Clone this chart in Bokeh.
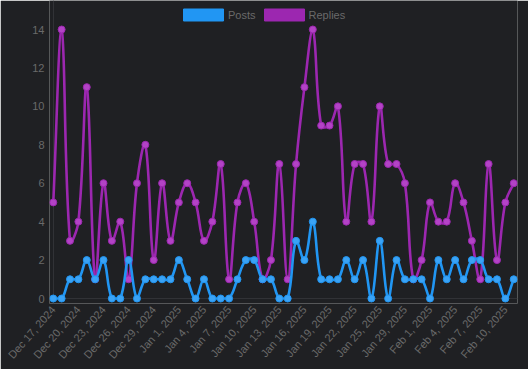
import numpy as np
from bokeh.plotting import figure
from bokeh.models import Range1d, FixedTicker, Legend, LegendItem, ColumnDataSource
from bokeh.embed import file_html
from bokeh.resources import INLINE

dates = [
    "Dec 17, 2024", "Dec 18, 2024", "Dec 19, 2024", "Dec 20, 2024", "Dec 21, 2024",
    "Dec 22, 2024", "Dec 23, 2024", "Dec 24, 2024", "Dec 25, 2024", "Dec 26, 2024",
    "Dec 27, 2024", "Dec 28, 2024", "Dec 29, 2024", "Dec 30, 2024", "Dec 31, 2024",
    "Jan 1, 2025", "Jan 2, 2025", "Jan 3, 2025", "Jan 4, 2025", "Jan 5, 2025",
    "Jan 6, 2025", "Jan 7, 2025", "Jan 8, 2025", "Jan 9, 2025", "Jan 10, 2025",
    "Jan 11, 2025", "Jan 12, 2025", "Jan 13, 2025", "Jan 14, 2025", "Jan 15, 2025",
    "Jan 16, 2025", "Jan 17, 2025", "Jan 18, 2025", "Jan 19, 2025", "Jan 20, 2025",
    "Jan 21, 2025", "Jan 22, 2025", "Jan 23, 2025", "Jan 24, 2025", "Jan 25, 2025",
    "Jan 26, 2025", "Jan 27, 2025", "Jan 29, 2025", "Jan 30, 2025", "Jan 31, 2025",
    "Feb 1, 2025", "Feb 2, 2025", "Feb 3, 2025", "Feb 4, 2025", "Feb 5, 2025",
    "Feb 6, 2025", "Feb 7, 2025", "Feb 8, 2025", "Feb 9, 2025", "Feb 10, 2025",
    "Feb 11, 2025",
]
posts = [0, 0, 1, 1, 2, 1, 2, 0, 0, 2, 0, 1, 1, 1, 1, 2, 1, 0, 1, 0,
         0, 0, 1, 2, 2, 1, 1, 0, 0, 3, 2, 4, 1, 1, 1, 2, 1, 2, 0, 3,
         0, 2, 1, 1, 1, 0, 2, 1, 2, 1, 2, 2, 1, 1, 0, 1]
replies = [5, 14, 3, 4, 11, 1, 6, 3, 4, 1, 6, 8, 2, 6, 3, 5, 6, 5, 3, 4,
           7, 1, 5, 6, 4, 1, 2, 7, 1, 7, 11, 14, 9, 9, 10, 4, 7, 7, 4, 10,
           7, 7, 6, 1, 2, 5, 4, 4, 6, 5, 3, 1, 7, 2, 5, 6]
y_ticks = [0, 2, 4, 6, 8, 10, 12, 14]
x_tick_step = 3

BG = "#1f2023"
POST_C = "#2196f3"
POST_FILL = "#3ba3f5"
REPLY_C = "#9c27b0"
REPLY_FILL = "#b343c6"
TXT = "#6a6a6a"
AXIS_C = "#313236"
FONT = "Liberation Sans"
FS = "11px"

n = len(dates)
idx = list(range(n))
YMAX = 14


def spline_source(vals, sx=8.37, sy=19.21, t=0.4):
    # Chart.js-style bezier control points, computed from the data
    x = np.arange(len(vals), dtype=float)
    y = np.array(vals, dtype=float)
    X, Y = x * sx, y * sy
    m = len(vals)
    pcx, pcy, ncx, ncy = (np.zeros(m) for _ in range(4))
    for i in range(m):
        a = i - 1 if i > 0 else i
        b = i + 1 if i < m - 1 else i
        d01 = np.hypot(X[i] - X[a], Y[i] - Y[a])
        d12 = np.hypot(X[b] - X[i], Y[b] - Y[i])
        tot = d01 + d12
        s01 = d01 / tot if tot > 0 else 0.0
        s12 = d12 / tot if tot > 0 else 0.0
        fa, fb = t * s01, t * s12
        pcx[i] = X[i] - fa * (X[b] - X[a])
        pcy[i] = Y[i] - fa * (Y[b] - Y[a])
        ncx[i] = X[i] + fb * (X[b] - X[a])
        ncy[i] = Y[i] + fb * (Y[b] - Y[a])
    pcx, ncx = np.clip(pcx / sx, 0, m - 1), np.clip(ncx / sx, 0, m - 1)
    pcy, ncy = np.clip(pcy / sy, 0, YMAX), np.clip(ncy / sy, 0, YMAX)
    return ColumnDataSource(dict(
        x0=x[:-1].tolist(), y0=y[:-1].tolist(), x1=x[1:].tolist(), y1=y[1:].tolist(),
        cx0=ncx[:-1].tolist(), cy0=ncy[:-1].tolist(), cx1=pcx[1:].tolist(), cy1=pcy[1:].tolist()))


p = figure(width=528, height=369, output_backend="svg", toolbar_location=None,
           x_range=Range1d(-0.45, n - 1 + 0.45), y_range=Range1d(-0.26, YMAX + 1.51),
           background_fill_color=BG, border_fill_color=BG, outline_line_color=None,
           min_border_left=49, min_border_right=11, min_border_top=0, min_border_bottom=66)

# only the zero lines (axis borders) are drawn
p.xgrid[0].ticker = FixedTicker(ticks=[0])
p.ygrid[0].ticker = FixedTicker(ticks=[0])
p.xgrid[0].grid_line_color = AXIS_C
p.ygrid[0].grid_line_color = AXIS_C

for ax in (p.xaxis[0], p.yaxis[0]):
    ax.axis_line_color = None
    ax.major_tick_line_color = None
    ax.minor_tick_line_color = None
    ax.major_tick_out = 0
    ax.major_tick_in = 0
    ax.minor_tick_out = 0
    ax.major_label_text_color = TXT
    ax.major_label_text_font = FONT
    ax.major_label_text_font_size = FS

xt = list(range(0, n, x_tick_step))
p.xaxis[0].ticker = FixedTicker(ticks=xt)
p.xaxis[0].major_label_overrides = {i: dates[i] for i in xt}
p.xaxis[0].major_label_orientation = 0.855
p.xaxis[0].major_label_standoff = 4
p.yaxis[0].ticker = FixedTicker(ticks=y_ticks)
p.yaxis[0].major_label_standoff = 5

# Replies (drawn first, below)
p.bezier(x0="x0", y0="y0", x1="x1", y1="y1", cx0="cx0", cy0="cy0", cx1="cx1", cy1="cy1",
         source=spline_source(replies), line_color=REPLY_C, line_width=2.6, line_cap="round")
p.scatter(idx, replies, size=7, fill_color=REPLY_FILL, line_color=REPLY_C, line_width=1)
# Posts
p.bezier(x0="x0", y0="y0", x1="x1", y1="y1", cx0="cx0", cy0="cy0", cx1="cx1", cy1="cy1",
         source=spline_source(posts), line_color=POST_C, line_width=2.6, line_cap="round")
p.scatter(idx, posts, size=7, fill_color=POST_FILL, line_color=POST_C, line_width=1)

# legend swatches (renderers without visible data)
nan = float("nan")
lp = p.quad(top=[nan], bottom=[nan], left=[nan], right=[nan], fill_color=POST_C, line_color=POST_C)
lr = p.quad(top=[nan], bottom=[nan], left=[nan], right=[nan], fill_color=REPLY_C, line_color=REPLY_C)
legend = Legend(items=[LegendItem(label="Posts", renderers=[lp]),
                       LegendItem(label="Replies", renderers=[lr])],
                orientation="horizontal", location=(129, 281),
                glyph_width=50, glyph_height=15, label_height=15, label_standoff=0,
                spacing=3, padding=0, margin=0,
                background_fill_alpha=0, border_line_color=None,
                label_text_color=TXT, label_text_font=FONT, label_text_font_size=FS)
p.add_layout(legend)

open("out.html", "w").write(file_html(p, INLINE))
